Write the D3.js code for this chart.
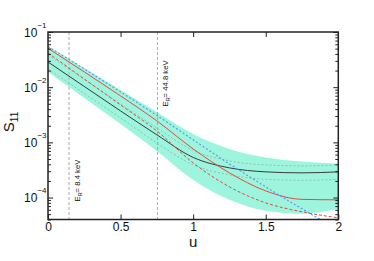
<!DOCTYPE html>
<html>
<head>
<meta charset="utf-8">
<script src="https://cdn.jsdelivr.net/npm/d3@7"></script>
<style>
  body { margin: 0; background: #fff; }
  text { font-family: "Liberation Sans", Arial, sans-serif; fill: #111; }
</style>
</head>
<body>
<div id="chart"></div>
<script>
// u grid and S11 values
const uGrid = [0, 0.25, 0.5, 0.75, 1, 1.25, 1.5, 1.75, 2];
const central = [2.86e-2, 1.03e-2, 3.71e-3, 1.37e-3, 5.34e-4, 3.45e-4, 2.92e-4, 2.80e-4, 2.92e-4];
const bandHigh = [5.46e-2, 2.23e-2, 8.91e-3, 3.56e-3, 1.42e-3, 7.61e-4, 5.34e-4, 4.52e-4, 4.16e-4];
const bandLow = [1.89e-2, 6.38e-3, 2.16e-3, 7.00e-4, 2.09e-4, 9.08e-5, 5.74e-5, 5.07e-5, 6.24e-5];
const upperDotted = [3.84e-2, 1.38e-2, 4.97e-3, 1.83e-3, 7.15e-4, 4.62e-4, 3.91e-4, 3.75e-4, 3.91e-4];
const lowerDotted = [2.14e-2, 7.70e-3, 2.77e-3, 9.78e-4, 3.91e-4, 2.58e-4, 2.14e-4, 2.05e-4, 2.14e-4];
const redSolid = [5.07e-2, 1.89e-2, 6.94e-3, 2.45e-3, 7.61e-4, 2.80e-4, 1.32e-4, 9.27e-5, 9.08e-5];
const redDashed = [4.17e-2, 1.41e-2, 4.77e-3, 1.61e-3, 4.25e-4, 1.56e-4, 8.01e-5, 5.51e-5, 4.29e-5];
const blueDotted = [5.46e-2, 2.14e-2, 8.20e-3, 3.08e-3, 1.11e-3, 4.07e-4, 1.56e-4, 6.24e-5, 2.60e-5];

// recoil energy markers
const markerU = [0.145, 0.754];
const markerLabel = ["8.4 keV", "44.8 keV"];

const xTicks = [0, 0.5, 1, 1.5, 2];
const yMajor = [1e-4, 1e-3, 1e-2, 1e-1];
const yExp = ["−4", "−3", "−2", "−1"];

let totalWidth = 374, totalHeight = 261;
let mLeft = 48, mRight = 338.3, mTop = 32, mBottom = 219.5;

let x = d3.scaleLinear().domain([0, 2]).range([mLeft, mRight]);
let y = d3.scaleLog().domain([4e-5, 0.1]).range([mBottom, mTop]);

let svg = d3.select("#chart").append("svg")
    .attr("width", totalWidth)
    .attr("height", totalHeight);

svg.append("clipPath").attr("id", "plotClip")
    .append("rect")
    .attr("x", mLeft).attr("y", mTop)
    .attr("width", mRight - mLeft).attr("height", mBottom - mTop);

let plot = svg.append("g").attr("clip-path", "url(#plotClip)");

// uncertainty band
let band = uGrid.map((u, i) => [u, bandLow[i], bandHigh[i]]);
plot.append("path")
    .datum(band)
    .attr("fill", "#9ef5de")
    .attr("d", d3.area()
        .x(d => x(d[0]))
        .y0(d => y(d[1]))
        .y1(d => y(d[2]))
        .curve(d3.curveMonotoneX));

// vertical E_R markers
markerU.forEach(function (u, i) {
    plot.append("line")
        .attr("x1", x(u)).attr("x2", x(u))
        .attr("y1", mTop).attr("y2", mBottom)
        .attr("stroke", i === 0 ? "#bdbdbd" : "#999")
        .attr("stroke-width", i === 0 ? 1.3 : 0.8)
        .attr("stroke-dasharray", "3,2");
});

let line = d3.line()
    .x(d => x(d[0]))
    .y(d => y(d[1]))
    .curve(d3.curveMonotoneX);

function drawSeries(values, color, width, dash) {
    plot.append("path")
        .datum(uGrid.map((u, i) => [u, values[i]]))
        .attr("fill", "none")
        .attr("stroke", color)
        .attr("stroke-width", width)
        .attr("stroke-dasharray", dash)
        .attr("d", line);
}

drawSeries(upperDotted, "#8fbfb2", 1, "2,2");
drawSeries(lowerDotted, "#8fbfb2", 1, "2,2");
drawSeries(central, "#3a3a3a", 1, null);
drawSeries(redDashed, "#e5483f", 1, "3,2");
drawSeries(redSolid, "#e5483f", 1, null);
drawSeries(blueDotted, "#5f98f0", 1.2, "2,2");

// marker labels, rotated
markerU.forEach(function (u, i) {
    let t = svg.append("text")
        .attr("transform", "translate(" + (x(u) + 10.5) + "," + (i === 0 ? 201.5 : 106.5) + ") rotate(-90)")
        .attr("font-size", 7.7);
    t.append("tspan").text("E");
    t.append("tspan").attr("font-size", 5.5).attr("dy", 2).text("R");
    t.append("tspan").attr("dy", -2).text("= " + markerLabel[i]);
});

// minor ticks for the log axes
let yMinor = [];
[1e-5, 1e-4, 1e-3, 1e-2].forEach(function (dec) {
    for (let k = 2; k <= 9; k++) {
        let v = k * dec;
        if (v >= 4e-5 && v <= 0.1) yMinor.push(v);
    }
});

let axes = svg.append("g");

axes.append("g")
    .attr("transform", "translate(" + mLeft + ",0)")
    .call(d3.axisLeft(y).tickValues(yMajor).tickSize(-5).tickSizeOuter(0).tickFormat(""));
axes.append("g")
    .attr("transform", "translate(" + mLeft + ",0)")
    .call(d3.axisLeft(y).tickValues(yMinor).tickSize(-3).tickSizeOuter(0).tickFormat(""));
axes.append("g")
    .attr("transform", "translate(" + mRight + ",0)")
    .call(d3.axisRight(y).tickValues(yMajor).tickSize(-5).tickSizeOuter(0).tickFormat(""));
axes.append("g")
    .attr("transform", "translate(" + mRight + ",0)")
    .call(d3.axisRight(y).tickValues(yMinor).tickSize(-3).tickSizeOuter(0).tickFormat(""));
axes.append("g")
    .attr("transform", "translate(0," + mTop + ")")
    .call(d3.axisTop(x).tickValues([0.5, 1, 1.5]).tickSize(-5).tickSizeOuter(0).tickFormat(""));
axes.append("g")
    .attr("transform", "translate(0," + mBottom + ")")
    .call(d3.axisBottom(x).tickValues(xTicks).tickSize(-5).tickSizeOuter(0).tickPadding(3)
        .tickFormat(d3.format("")))
    .call(g => g.selectAll("text")
        .attr("font-size", 12)
        .attr("font-family", "Liberation Sans, Arial, sans-serif")
        .attr("fill", "#111"));

axes.selectAll(".domain").remove();
axes.selectAll(".tick line").attr("stroke", "#222").attr("stroke-width", 1);

// frame
svg.append("rect")
    .attr("x", mLeft).attr("y", mTop)
    .attr("width", mRight - mLeft).attr("height", mBottom - mTop)
    .attr("fill", "none")
    .attr("stroke", "#222")
    .attr("stroke-width", 1.5);

// y tick labels 10^n
yMajor.forEach(function (v, i) {
    let t = svg.append("text")
        .attr("x", mLeft - 1.5)
        .attr("y", y(v) + 4.5)
        .attr("text-anchor", "end")
        .attr("font-size", 12);
    t.append("tspan").text("10");
    t.append("tspan").attr("font-size", 8).attr("dy", -9).text(yExp[i]);
});

// axis titles
svg.append("text")
    .attr("x", x(1))
    .attr("y", 246.5)
    .attr("text-anchor", "middle")
    .attr("font-size", 15)
    .text("u");

let yTitle = svg.append("text")
    .attr("transform", "translate(14,122) rotate(-90)")
    .attr("text-anchor", "middle")
    .attr("font-size", 15);
yTitle.append("tspan").text("S");
yTitle.append("tspan").attr("font-size", 10).attr("dy", 4).text("11");
</script>
</body>
</html>
